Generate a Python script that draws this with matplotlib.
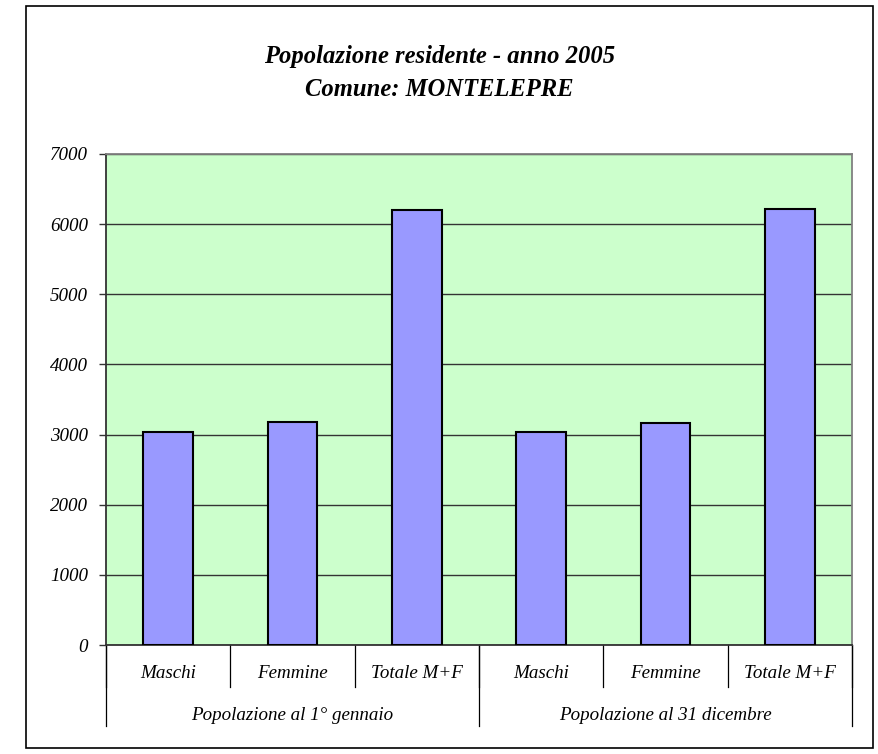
import matplotlib.pyplot as plt
from matplotlib.patches import Rectangle

# data
categories = ["Maschi", "Femmine", "Totale M+F", "Maschi", "Femmine", "Totale M+F"]
groups = ["Popolazione al 1° gennaio", "Popolazione al 31 dicembre"]
values = [3030, 3180, 6200, 3043, 3172, 6222]
yticks = [0, 1000, 2000, 3000, 4000, 5000, 6000, 7000]

plt.rcParams['font.family'] = ['Liberation Serif', 'DejaVu Serif']

fig = plt.figure(figsize=(8.79, 7.54), dpi=100)
# outer frame of the chart
fig.patches.append(Rectangle((26 / 879, 6 / 754), 847 / 879, 742 / 754, transform=fig.transFigure,
                             fill=False, edgecolor='black', linewidth=1.2))

ax = fig.add_axes([106 / 879, 109 / 754, 746 / 879, 491 / 754])
ax.set_facecolor('#CCFFCC')
x = list(range(len(values)))
ax.bar(x, values, width=0.4, color='#9999FF', edgecolor='black', linewidth=1.5, zorder=3)
ax.set_xlim(-0.5, 5.5)
ax.set_ylim(0, 7000)
ax.set_yticks(yticks)
ax.set_yticklabels([str(v) for v in yticks], fontsize=13.7, style='italic')
ax.yaxis.grid(True, color='#333333', linewidth=1, zorder=1)
ax.set_axisbelow(True)
ax.tick_params(axis='y', length=5, width=1, color='#333333', pad=8)
ax.set_xticks([])
for s in ['top', 'right']:
    ax.spines[s].set_color('#808080')
    ax.spines[s].set_linewidth(1.3)
ax.spines['left'].set_color('#333333')
ax.spines['bottom'].set_color('#333333')
ax.spines['left'].set_linewidth(1.3)
ax.spines['bottom'].set_linewidth(1.3)

tr = ax.get_xaxis_transform()
# category separators
for b in [-0.5, 0.5, 1.5, 2.5, 3.5, 4.5, 5.5]:
    ax.plot([b, b], [0, -0.0855], transform=tr, color='black', linewidth=0.9, clip_on=False)
# group separators
for b in [-0.5, 2.5, 5.5]:
    ax.plot([b, b], [0, -0.165], transform=tr, color='black', linewidth=0.9, clip_on=False)
for i, c in enumerate(categories):
    ax.text(i, -0.059, c, transform=tr, ha='center', va='center', fontsize=13.7, style='italic')
for g, name in enumerate(groups):
    ax.text(g * 3 + 1, -0.1426, name, transform=tr, ha='center', va='center', fontsize=13.7, style='italic')

fig.text(0.5, 1 - 57 / 754, "Popolazione residente - anno 2005", ha='center', va='center',
         fontsize=17.7, fontweight='bold', style='italic')
fig.text(0.5, 1 - 90 / 754, "Comune: MONTELEPRE", ha='center', va='center',
         fontsize=17.7, fontweight='bold', style='italic')

fig.savefig('out.png', dpi=100)
